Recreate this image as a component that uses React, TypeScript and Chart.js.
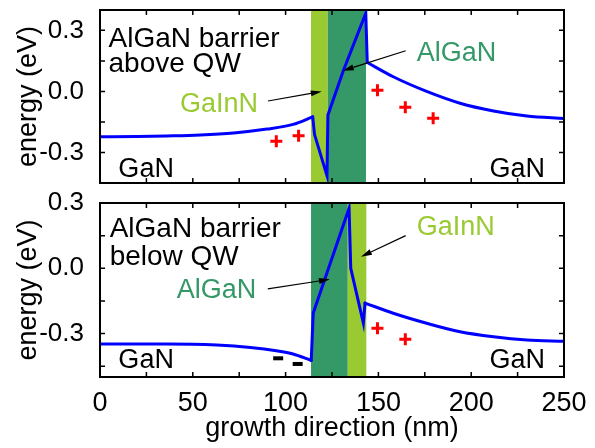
import React, { useEffect, useRef } from "react";
import { Chart, registerables } from "chart.js";

Chart.register(...registerables);

// ---------------- data ----------------
const xTickLabels = [0, 50, 100, 150, 200, 250];
const xTickMarks = [0, 25, 50, 75, 100, 125, 150, 175, 200, 225, 250];
const yTickLabels = [-0.3, 0, 0.3];
const yTickMarks = [-0.45, -0.3, -0.15, 0, 0.15, 0.3];

// top panel: AlGaN barrier above QW
const topLeftX = [0, 20, 36, 54, 72, 90, 104, 114.6];
const topLeftY = [-0.223, -0.222, -0.219, -0.214, -0.204, -0.185, -0.162, -0.125];
const topWellX = [114.6, 115.6, 122.3, 122.8, 131.1, 143.2, 144.0];
const topWellY = [-0.125, -0.212, -0.414, -0.116, 0.102, 0.384, 0.142];
const topRightX = [144, 158, 176, 194, 212, 230, 250];
const topRightY = [0.142, 0.072, 0.0, -0.058, -0.096, -0.121, -0.133];
const topPlusX = [95, 107, 149.5, 164.5, 179.5];
const topPlusY = [-0.245, -0.218, 0.006, -0.078, -0.132];
const topMinusX: number[] = [];
const topMinusY: number[] = [];
const topLayerFrom = [113.7, 122.7];
const topLayerTo = [122.7, 143.3];
const topLayerKind = ["GaInN", "AlGaN"];

// bottom panel: AlGaN barrier below QW
const botLeftX = [0, 36, 63, 81, 95, 104, 113.8];
const botLeftY = [-0.348, -0.348, -0.353, -0.364, -0.379, -0.394, -0.424];
const botWellX = [113.8, 114.9, 134.2, 135.1, 141.9, 142.8];
const botWellY = [-0.424, -0.206, 0.276, 0.0, -0.252, -0.16];
const botRightX = [142.8, 158, 176, 194, 212, 230, 250];
const botRightY = [-0.16, -0.207, -0.253, -0.292, -0.315, -0.33, -0.336];
const botPlusX = [149.5, 164.5];
const botPlusY = [-0.276, -0.327];
const botMinusX = [96, 106.5];
const botMinusY = [-0.414, -0.44];
const botLayerFrom = [113.7, 133.5];
const botLayerTo = [133.5, 143.5];
const botLayerKind = ["AlGaN", "GaInN"];

// ---------------- styles ----------------
const FONT = "'Liberation Sans', Arial, Helvetica, sans-serif";
const LIGHT_GREEN = "#9aca32";
const DARK_GREEN = "#349966";
const KIND_COLOR: Record<string, string> = { GaInN: LIGHT_GREEN, AlGaN: DARK_GREEN, GaN: "#000" };

type Note = { text: string; x: number; y: number; color: string; align?: CanvasTextAlign; size?: number };
type Arrow = { x1: number; y1: number; x2: number; y2: number };

const topNotes: Note[] = [
  { text: "AlGaN barrier", x: 4.6, y: 0.22, color: "#000", size: 28 },
  { text: "above QW", x: 4.6, y: 0.097, color: "#000", size: 28 },
  { text: "GaInN", x: 43.1, y: -0.1, color: LIGHT_GREEN },
  { text: "AlGaN", x: 170.6, y: 0.149, color: DARK_GREEN },
  { text: "GaN", x: 9.9, y: -0.419, color: "#000" },
  { text: "GaN", x: 239.8, y: -0.419, color: "#000", align: "right" },
];
const topArrows: Arrow[] = [
  { x1: 90.5, y1: -0.047, x2: 119.5, y2: 0.0 },
  { x1: 164.7, y1: 0.2, x2: 130.8, y2: 0.102 },
];
const botNotes: Note[] = [
  { text: "AlGaN barrier", x: 5.2, y: 0.145, color: "#000", size: 28 },
  { text: "below QW", x: 5.2, y: 0.015, color: "#000", size: 28 },
  { text: "AlGaN", x: 41.3, y: -0.138, color: DARK_GREEN },
  { text: "GaInN", x: 170.6, y: 0.153, color: LIGHT_GREEN },
  { text: "GaN", x: 9.9, y: -0.46, color: "#000" },
  { text: "GaN", x: 239.8, y: -0.46, color: "#000", align: "right" },
];
const botArrows: Arrow[] = [
  { x1: 90.4, y1: -0.095, x2: 123.9, y2: -0.051 },
  { x1: 164.7, y1: 0.15, x2: 140.6, y2: 0.053 },
];

type PanelDef = {
  leftX: number[]; leftY: number[];
  wellX: number[]; wellY: number[];
  rightX: number[]; rightY: number[];
  plusX: number[]; plusY: number[];
  minusX: number[]; minusY: number[];
  layerFrom: number[]; layerTo: number[]; layerKind: string[];
  notes: Note[]; arrows: Arrow[];
  yMin: number; yMax: number;
  showX: boolean;
  canvasTop: number; canvasHeight: number;
  padTop: number; padBottom: number;
};

const topPanel: PanelDef = {
  leftX: topLeftX, leftY: topLeftY, wellX: topWellX, wellY: topWellY,
  rightX: topRightX, rightY: topRightY, plusX: topPlusX, plusY: topPlusY,
  minusX: topMinusX, minusY: topMinusY,
  layerFrom: topLayerFrom, layerTo: topLayerTo, layerKind: topLayerKind,
  notes: topNotes, arrows: topArrows,
  yMin: -0.45, yMax: 0.4, showX: false,
  canvasTop: 0, canvasHeight: 195, padTop: 10, padBottom: 12,
};
const bottomPanel: PanelDef = {
  leftX: botLeftX, leftY: botLeftY, wellX: botWellX, wellY: botWellY,
  rightX: botRightX, rightY: botRightY, plusX: botPlusX, plusY: botPlusY,
  minusX: botMinusX, minusY: botMinusY,
  layerFrom: botLayerFrom, layerTo: botLayerTo, layerKind: botLayerKind,
  notes: botNotes, arrows: botArrows,
  yMin: -0.5, yMax: 0.3, showX: true,
  canvasTop: 186, canvasHeight: 262, padTop: 17, padBottom: 0,
};

const pts = (xs: number[], ys: number[]) => xs.map((x, i) => ({ x, y: ys[i] }));

function makePlugin(p: PanelDef) {
  return {
    id: "panelDecor",
    beforeDatasetsDraw(chart: any) {
      const { ctx, chartArea, scales } = chart;
      const { top, bottom } = chartArea;
      ctx.save();
      p.layerFrom.forEach((f, i) => {
        const l = scales.x.getPixelForValue(f);
        const r = scales.x.getPixelForValue(p.layerTo[i]);
        ctx.fillStyle = KIND_COLOR[p.layerKind[i]];
        ctx.fillRect(l, top, r - l, bottom - top);
      });
      ctx.restore();
    },
    afterDatasetsDraw(chart: any) {
      const { ctx, chartArea, scales } = chart;
      const { left, right, top, bottom } = chartArea;
      const xs = scales.x, ys = scales.y;
      ctx.save();
      // notes
      p.notes.forEach((n) => {
        ctx.font = `${n.size ?? 27}px ${FONT}`;
        ctx.fillStyle = n.color;
        ctx.textAlign = n.align ?? "left";
        ctx.textBaseline = "alphabetic";
        ctx.fillText(n.text, xs.getPixelForValue(n.x), ys.getPixelForValue(n.y));
      });
      // arrows
      ctx.strokeStyle = "#000";
      ctx.fillStyle = "#000";
      ctx.lineWidth = 1.2;
      p.arrows.forEach((a) => {
        const x1 = xs.getPixelForValue(a.x1), y1 = ys.getPixelForValue(a.y1);
        const x2 = xs.getPixelForValue(a.x2), y2 = ys.getPixelForValue(a.y2);
        const ang = Math.atan2(y2 - y1, x2 - x1);
        const hl = 11, hw = 3;
        const bx = x2 - hl * Math.cos(ang), by = y2 - hl * Math.sin(ang);
        ctx.beginPath();
        ctx.moveTo(x1, y1);
        ctx.lineTo(bx, by);
        ctx.stroke();
        ctx.beginPath();
        ctx.moveTo(x2, y2);
        ctx.lineTo(bx + hw * Math.sin(ang), by - hw * Math.cos(ang));
        ctx.lineTo(bx - hw * Math.sin(ang), by + hw * Math.cos(ang));
        ctx.closePath();
        ctx.fill();
      });
      // tick marks (inward, all four sides)
      ctx.lineWidth = 1.5;
      const tl = 5;
      ctx.beginPath();
      xTickMarks.forEach((v) => {
        const px = xs.getPixelForValue(v);
        ctx.moveTo(px, bottom); ctx.lineTo(px, bottom - tl);
        ctx.moveTo(px, top); ctx.lineTo(px, top + tl);
      });
      yTickMarks.forEach((v) => {
        if (v <= p.yMin || v >= p.yMax) return;
        const py = ys.getPixelForValue(v);
        ctx.moveTo(left, py); ctx.lineTo(left + tl, py);
        ctx.moveTo(right, py); ctx.lineTo(right - tl, py);
      });
      ctx.stroke();
      // frame
      ctx.lineWidth = 2;
      ctx.strokeRect(left, top, right - left, bottom - top);
      ctx.restore();
    },
  };
}

function Panel({ p }: { p: PanelDef }) {
  const ref = useRef<HTMLCanvasElement>(null);
  useEffect(() => {
    if (!ref.current) return;
    const lineStyle = {
      showLine: true,
      borderColor: "#0000ff",
      borderWidth: 3,
      pointRadius: 0,
      borderCapStyle: "round" as const,
      borderJoinStyle: "miter" as const,
      fill: false,
    };
    const chart = new Chart(ref.current, {
      type: "scatter",
      data: {
        datasets: [
          { ...lineStyle, data: pts(p.leftX, p.leftY), cubicInterpolationMode: "monotone" },
          { ...lineStyle, data: pts(p.wellX, p.wellY), tension: 0 },
          { ...lineStyle, data: pts(p.rightX, p.rightY), cubicInterpolationMode: "monotone" },
          {
            data: pts(p.plusX, p.plusY), showLine: false, pointStyle: "cross",
            pointRadius: 6, pointBorderWidth: 3, pointBorderColor: "#ff0000", pointBackgroundColor: "#ff0000",
          },
          {
            data: pts(p.minusX, p.minusY), showLine: false, pointStyle: "line",
            pointRadius: 5, pointBorderWidth: 4, pointBorderColor: "#000", pointBackgroundColor: "#000",
          },
        ],
      } as any,
      options: {
        animation: false,
        responsive: false,
        maintainAspectRatio: false,
        events: [],
        layout: { padding: { top: p.padTop, bottom: p.padBottom, left: 0, right: 31 } },
        plugins: { legend: { display: false }, tooltip: { enabled: false } },
        scales: {
          x: {
            type: "linear",
            min: 0,
            max: 250,
            display: p.showX,
            grid: { display: false, drawTicks: false },
            border: { display: false },
            afterBuildTicks: (s: any) => { s.ticks = xTickLabels.map((v) => ({ value: v })); },
            ticks: { font: { size: 27, family: FONT }, color: "#000", padding: 10, maxRotation: 0, autoSkip: false },
            title: { display: true, text: "growth direction (nm)", font: { size: 27, family: FONT }, color: "#000", padding: { top: 0, bottom: 3 } },
            afterFit: (s: any) => { s.height = p.showX ? 71 : 0; s.paddingLeft = 0; s.paddingRight = 0; },
          },
          y: {
            type: "linear",
            min: p.yMin,
            max: p.yMax,
            grid: { display: false, drawTicks: false },
            border: { display: false },
            afterBuildTicks: (s: any) => { s.ticks = yTickLabels.map((v) => ({ value: v })); },
            ticks: {
              font: { size: 26, family: FONT }, color: "#000", padding: 16, autoSkip: false,
              callback: (v: any) => Number(v).toFixed(1),
            },
            title: { display: true, text: "energy (eV)", font: { size: 27, family: FONT }, color: "#000", padding: { top: 12, bottom: 0 } },
            afterFit: (s: any) => { s.width = 100; s.paddingTop = 0; s.paddingBottom = 0; },
          },
        },
      } as any,
      plugins: [makePlugin(p)],
    });
    return () => chart.destroy();
  }, [p]);
  return (
    <canvas
      ref={ref}
      width={595}
      height={p.canvasHeight}
      style={{ position: "absolute", left: 0, top: p.canvasTop, width: 595, height: p.canvasHeight }}
    />
  );
}

export default function App() {
  return (
    <div style={{ position: "absolute", left: 0, top: 0, width: 595, height: 448, background: "#fff", overflow: "hidden" }}>
      <Panel p={topPanel} />
      <Panel p={bottomPanel} />
    </div>
  );
}
